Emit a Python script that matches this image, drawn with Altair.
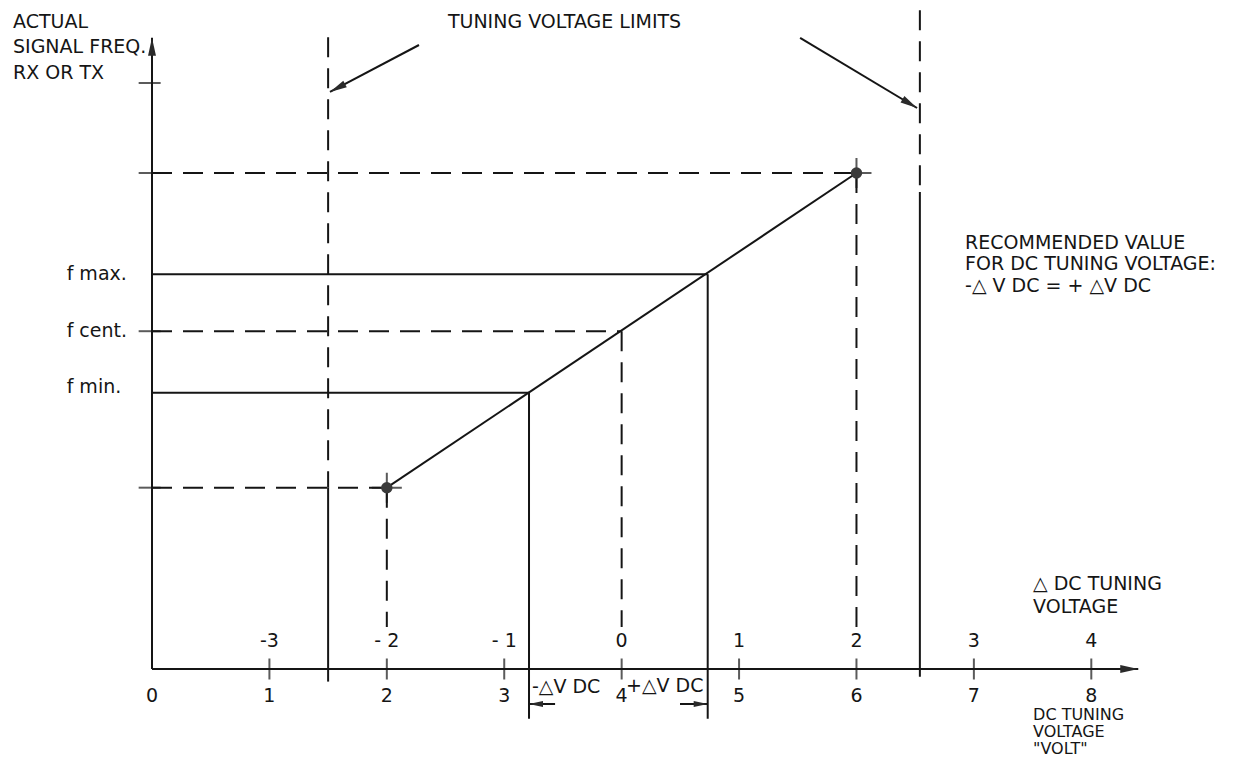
import math
import altair as alt
import pandas as pd

# ---------------- data ----------------
# DC tuning voltage (V) on the lower scale, delta-voltage labels on the upper scale
volt_ticks = [1, 2, 3, 4, 5, 6, 7, 8]
volt_labels = ["0", "1", "2", "3", "4", "5", "6", "7", "8"]
volt_label_pos = [0, 1, 2, 3, 4, 5, 6, 7, 8]
delta_labels = ["-3", "- 2", "- 1", "0", "1", "2", "3", "4"]
delta_label_pos = [1, 2, 3, 4, 5, 6, 7, 8]

# tuning characteristic end points (volt, frequency in arbitrary units)
tuning_volt = [2.0, 6.0]
tuning_freq = [3.022, 8.267]

# operating frequencies and the voltages at which they are reached
level_names = ["f max.", "f cent.", "f min."]
level_freq = [6.58, 5.63, 4.605]
level_volt = [4.733, 4.0, 3.211]

# tuning-voltage limits
limit_volt = [1.5, 6.54]
limit_top = [10.53, 10.98]
limit_switch = [3.022, 7.95]
limit_bottom = [-0.21, -0.13]

# top of frequency axis
freq_axis_top = 10.52
freq_tick_top = 9.767
volt_axis_end = 8.4

# ---------------- scale geometry ----------------
X_DOMAIN = [0, 8.5]
Y_DOMAIN = [0, 11]
W, H = 998, 660
PX_X = W / (X_DOMAIN[1] - X_DOMAIN[0])
PX_Y = H / (Y_DOMAIN[1] - Y_DOMAIN[0])

INK = "#151515"
FONT = "DejaVu Sans"
FS = 19

xs = alt.Scale(domain=X_DOMAIN, nice=False, zero=False)
ys = alt.Scale(domain=Y_DOMAIN, nice=False, zero=False)


def X(f="x"):
    return alt.X(f"{f}:Q", scale=xs, axis=None)


def Y(f="y"):
    return alt.Y(f"{f}:Q", scale=ys, axis=None)


# ---------------- segments ----------------
solid = []
dashed = []

def seg(lst, x, y, x2, y2):
    lst.append({"x": x, "y": y, "x2": x2, "y2": y2})

# axes
seg(solid, 0, 0, volt_axis_end, 0)
seg(solid, 0, 0, 0, freq_axis_top)

# characteristic
seg(solid, tuning_volt[0], tuning_freq[0], tuning_volt[1], tuning_freq[1])

# projections of the end points
seg(dashed, 0, tuning_freq[1], tuning_volt[1], tuning_freq[1])
seg(dashed, 0, tuning_freq[0], tuning_volt[0], tuning_freq[0])
seg(dashed, tuning_volt[0], tuning_freq[0], tuning_volt[0], 0.7)
seg(dashed, tuning_volt[1], tuning_freq[1], tuning_volt[1], 0.7)

# operating levels
for name, f, v in zip(level_names, level_freq, level_volt):
    if name == "f cent.":
        seg(dashed, 0, f, v, f)
        seg(dashed, v, f, v, 0.7)
    else:
        seg(solid, 0, f, v, f)
        seg(solid, v, f, v, -0.83)

# limits
for v, t, s, b in zip(limit_volt, limit_top, limit_switch, limit_bottom):
    seg(dashed, v, t, v, s)
    seg(solid, v, s, v, b)

# annotation arrows (tail -> tip)
arrows = [
    (2.274, 10.40, 1.516, 9.617, 17),
    (5.52, 10.517, 6.516, 9.35, 17),
    (3.433, -0.583, 3.211, -0.583, 14),
    (4.497, -0.583, 4.733, -0.583, 14),
]
heads = []
for x0, y0, x1, y1, L in arrows:
    seg(solid, x0, y0, x1, y1)
# axis arrow heads
arrow_tips = [(0, 0, 0, freq_axis_top, 18), (0, 0, volt_axis_end, 0, 18)] + arrows
for x0, y0, x1, y1, L in arrow_tips:
    dx = (x1 - x0) * PX_X
    dy = -(y1 - y0) * PX_Y
    ang = math.degrees(math.atan2(dx, -dy)) % 360
    heads.append({"x": x1, "y": y1, "angle": ang, "size": (2 * L) ** 2})

solid_df = pd.DataFrame(solid)
dashed_df = pd.DataFrame(dashed)
heads_df = pd.DataFrame(heads)

solid_layer = alt.Chart(solid_df).mark_rule(color=INK, strokeWidth=2).encode(
    x=X(), y=Y(), x2="x2:Q", y2="y2:Q")
dashed_layer = alt.Chart(dashed_df).mark_rule(
    color=INK, strokeWidth=2, strokeDash=[20, 11]).encode(
    x=X(), y=Y(), x2="x2:Q", y2="y2:Q")

head_layer = alt.Chart(heads_df).mark_point(
    shape="M0,0L0.22,1L-0.22,1Z", filled=True, color="#2a2a2a", opacity=1
).encode(x=X(), y=Y(), angle=alt.Angle("angle:Q", scale=None),
         size=alt.Size("size:Q", scale=None))

# ticks
vt_df = pd.DataFrame({"x": volt_ticks, "y": [0] * len(volt_ticks)})
vtick_layer = alt.Chart(vt_df).mark_tick(
    orient="vertical", size=21, thickness=2, color=INK).encode(x=X(), y=Y())

ft_levels = [freq_tick_top, tuning_freq[1], level_freq[1], tuning_freq[0]]
ft_df = pd.DataFrame({"x": [-0.02] * 4, "y": ft_levels})
ftick_layer = alt.Chart(ft_df).mark_tick(
    orient="horizontal", size=22, thickness=2, color=INK).encode(x=X(), y=Y())

# points with cross hairs
pt_df = pd.DataFrame({"x": tuning_volt, "y": tuning_freq})
dot_layer = alt.Chart(pt_df).mark_circle(size=130, color="#3a3a3a", opacity=1).encode(
    x=X(), y=Y())
cross_layer = alt.Chart(pt_df).mark_point(
    shape="M-1,0L1,0M0,-1L0,1", size=900, filled=False, color=INK, strokeWidth=2
).encode(x=X(), y=Y())

# ---------------- texts ----------------
center_txt = pd.DataFrame(
    [{"x": v, "y": -0.45, "t": t} for v, t in zip(volt_label_pos, volt_labels)]
    + [{"x": v, "y": 0.46, "t": t} for v, t in zip(delta_label_pos, delta_labels)]
)
center_layer = alt.Chart(center_txt).mark_text(
    font=FONT, fontSize=FS, color=INK, align="center", baseline="middle"
).encode(x=X(), y=Y(), text="t:N")

left_rows = [
    (-1.184, 10.79, "ACTUAL"),
    (-1.184, 10.36, "SIGNAL FREQ."),
    (-1.184, 9.93, "RX OR TX"),
    (2.52, 10.79, "TUNING VOLTAGE LIMITS"),
    (6.925, 7.10, "RECOMMENDED VALUE"),
    (6.925, 6.745, "FOR DC TUNING VOLTAGE:"),
    (6.925, 6.39, "-\u25b3 V DC = + \u25b3V DC"),
    (7.504, 1.41, "\u25b3 DC TUNING"),
    (7.504, 1.03, "VOLTAGE"),
    (3.236, -0.30, "-\u25b3V DC"),
    (4.037, -0.29, "+\u25b3V DC"),
]
for name, f in zip(level_names, level_freq):
    left_rows.append((-0.727, f + (0.1 if name == "f min." else 0.0), name))
left_txt = pd.DataFrame(left_rows, columns=["x", "y", "t"])
left_layer = alt.Chart(left_txt).mark_text(
    font=FONT, fontSize=FS, color=INK, align="left", baseline="middle"
).encode(x=X(), y=Y(), text="t:N")

# lower-axis title (kept slightly smaller so it fits under the axis)
axis_title_rows = [
    (7.504, -0.767, "DC TUNING"),
    (7.504, -1.05, "VOLTAGE"),
    (7.504, -1.333, '"VOLT"'),
]
axis_title_df = pd.DataFrame(axis_title_rows, columns=["x", "y", "t"])
axis_title_layer = alt.Chart(axis_title_df).mark_text(
    font=FONT, fontSize=16, color=INK, align="left", baseline="middle"
).encode(x=X(), y=Y(), text="t:N")

chart = alt.layer(
    solid_layer, dashed_layer, vtick_layer, ftick_layer, head_layer,
    cross_layer, dot_layer, center_layer, left_layer, axis_title_layer
).properties(
    width=W, height=H, autosize="none",
    padding={"left": 144, "top": 1, "right": 84, "bottom": 93},
).configure(background="white").configure_view(stroke=None, strokeWidth=0)

chart.save("out.html", embed_options={"renderer": "svg", "actions": False})
